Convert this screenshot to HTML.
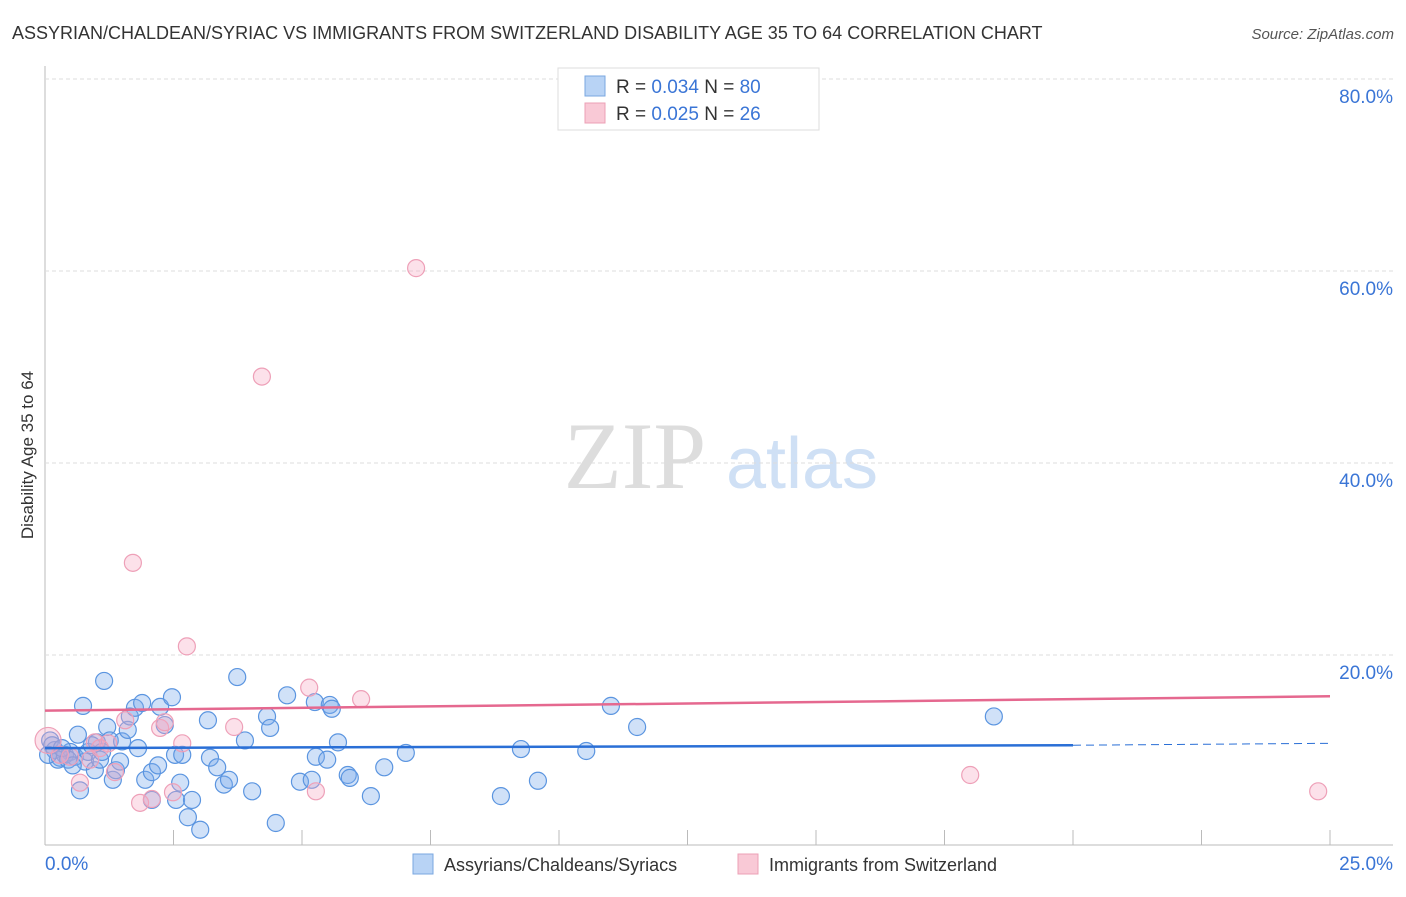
<!DOCTYPE html>
<html><head><meta charset="utf-8"><style>
body{margin:0;background:#fff;font-family:"Liberation Sans",sans-serif;}
svg text{font-family:"Liberation Sans",sans-serif;}
</style></head><body>
<svg id="chart" width="1406" height="892">
<text x="12" y="39" font-size="18" fill="#333">ASSYRIAN/CHALDEAN/SYRIAC VS IMMIGRANTS FROM SWITZERLAND DISABILITY AGE 35 TO 64 CORRELATION CHART</text>
<text x="1394" y="39" font-size="15" fill="#555" font-style="italic" text-anchor="end">Source: ZipAtlas.com</text>
<text x="33" y="455" font-size="17" fill="#333" text-anchor="middle" transform="rotate(-90 33 455)">Disability Age 35 to 64</text>
<g><text x="635" y="488" font-size="95" fill="#ddd" font-family="Liberation Serif" text-anchor="middle" style="font-family:'Liberation Serif',serif">ZIP</text><text x="802" y="488" font-size="72" fill="#cfe0f5" text-anchor="middle">atlas</text></g>
<g id="grid"></g><g id="marks"></g>
<g>
<rect x="558" y="68" width="261" height="62" fill="#fff" stroke="#ddd"/>
<rect x="585" y="76" width="20" height="20" fill="#b8d3f5" stroke="#7aa7e0"/>
<rect x="585" y="103" width="20" height="20" fill="#f9c9d6" stroke="#eca0b6"/>
<text x="616" y="93" font-size="19" fill="#333">R = <tspan fill="#3a75d6">0.034</tspan>   N = <tspan fill="#3a75d6">80</tspan></text>
<text x="616" y="120" font-size="19" fill="#333">R = <tspan fill="#3a75d6">0.025</tspan>   N =  <tspan fill="#3a75d6">26</tspan></text>
</g>
<g>
<rect x="413" y="854" width="20" height="20" fill="#b8d3f5" stroke="#7aa7e0"/>
<text x="444" y="871" font-size="18" fill="#333">Assyrians/Chaldeans/Syriacs</text>
<rect x="738" y="854" width="20" height="20" fill="#f9c9d6" stroke="#eca0b6"/>
<text x="769" y="871" font-size="18" fill="#333">Immigrants from Switzerland</text>
</g>
</svg>
<script>
const yTicks=[20,40,60,80];
const xTickLabels=["0.0%","25.0%"];
const blueX=[0.10,0.19,0.29,0.39,0.49,0.58,0.64,0.74,0.78,0.84,0.97,1.01,1.07,1.15,1.21,1.26,1.32,1.38,1.46,1.50,1.61,1.65,1.75,1.81,1.89,1.95,2.08,2.08,2.20,2.24,2.33,2.47,2.53,2.55,2.63,2.67,2.78,2.86,3.02,3.17,3.21,3.35,3.48,3.58,3.74,3.89,4.03,4.32,4.38,4.49,4.71,4.96,5.19,5.25,5.27,5.49,5.54,5.58,5.70,5.89,5.93,6.34,6.60,7.02,8.87,9.26,9.59,10.53,11.01,11.52,18.46,0.14,0.25,0.45,0.68,0.06,0.33,0.54,0.91,1.11];
const blueY=[11.1,10.1,9.3,9.6,9.9,9.4,11.7,14.7,8.9,9.9,8.0,10.9,9.1,17.3,12.5,11.1,7.0,8.0,8.9,11.0,12.2,13.6,14.5,10.3,15.0,7.0,7.8,4.9,8.5,14.6,12.7,15.6,9.6,4.9,6.7,9.6,3.1,4.9,1.8,13.2,9.3,8.3,6.5,7.0,17.7,11.1,5.8,13.6,12.4,2.5,15.8,6.8,7.0,15.1,9.4,9.1,14.8,14.4,10.9,7.5,7.2,5.3,8.3,9.8,5.3,10.2,6.9,10.0,14.7,12.5,13.6,10.6,9.1,9.1,5.9,9.6,10.3,8.5,10.6,9.9];
const pinkX=[0.06,0.29,0.49,0.68,0.97,1.23,1.36,1.56,1.85,2.08,2.24,2.33,2.49,2.67,2.76,1.71,3.68,4.22,5.14,5.27,6.15,7.22,18.0,24.77,0.88,1.07];
const pinkY=[11.1,9.6,9.4,6.7,10.9,10.8,7.8,13.2,4.6,5.0,12.4,13.0,5.7,10.8,20.9,29.6,12.5,49.0,16.6,5.8,15.4,60.3,7.5,5.8,9.1,10.3];
const blueTrend=[10.3,10.6,10.8];
const pinkTrend=[14.2,15.7];
const X=v=>45+v*51.4, Y=v=>847-v*9.6;
const NS="http://www.w3.org/2000/svg";
const grid=document.getElementById('grid'), marks=document.getElementById('marks');
function mk(tag,attrs,parent){const e=document.createElementNS(NS,tag);for(const k in attrs)e.setAttribute(k,attrs[k]);parent.appendChild(e);return e;}
let ax=mk('line',{x1:45,y1:66,x2:45,y2:845,stroke:'#bbb'},grid);


let bx=mk('line',{x1:45,y1:845,x2:1393,y2:845,stroke:'#bbb'},grid);


for(let i=1;i<=10;i++){const xx=X(i*2.5);let t=mk('line',{x1:xx,y1:830,x2:xx,y2:845,stroke:'#bbb'},grid);

}
yTicks.forEach(v=>{let g=mk('line',{x1:45,y1:Y(v),x2:1393,y2:Y(v),stroke:'#ddd','stroke-dasharray':'4,3'},grid);


let t=mk('text',{x:1393,y:Y(v)+24,'font-size':19,fill:'#3a75d6','text-anchor':'end'},grid);t.textContent=v.toFixed(1)+'%';

});
let xl0=mk('text',{x:45,y:870,'font-size':19,fill:'#3a75d6'},grid);xl0.textContent=xTickLabels[0];


let xl1=mk('text',{x:1393,y:870,'font-size':19,fill:'#3a75d6','text-anchor':'end'},grid);xl1.textContent=xTickLabels[1];


blueX.forEach((v,i)=>{let c=mk('circle',{cx:X(v),cy:Y(blueY[i]),r:8.5,fill:'rgba(120,170,235,0.35)',stroke:'#5b95e0','stroke-width':1.2},marks);

});
pinkX.forEach((v,i)=>{let c=mk('circle',{cx:X(v),cy:Y(pinkY[i]),r:i===0?13:8.5,fill:'rgba(245,170,195,0.35)',stroke:'#eea0b8','stroke-width':1.2},marks);

});
let bl=mk('line',{x1:X(0),y1:Y(blueTrend[0]),x2:X(20),y2:Y(blueTrend[1]),stroke:'#2a6fd6','stroke-width':2.5},marks);


let bd=mk('line',{x1:X(20),y1:Y(blueTrend[1]),x2:X(25),y2:Y(blueTrend[2]),stroke:'#2a6fd6','stroke-width':1,'stroke-dasharray':'8,5'},marks);


let pl=mk('line',{x1:X(0),y1:Y(pinkTrend[0]),x2:X(25),y2:Y(pinkTrend[1]),stroke:'#e5688f','stroke-width':2.5},marks);


</script>
</body></html>
